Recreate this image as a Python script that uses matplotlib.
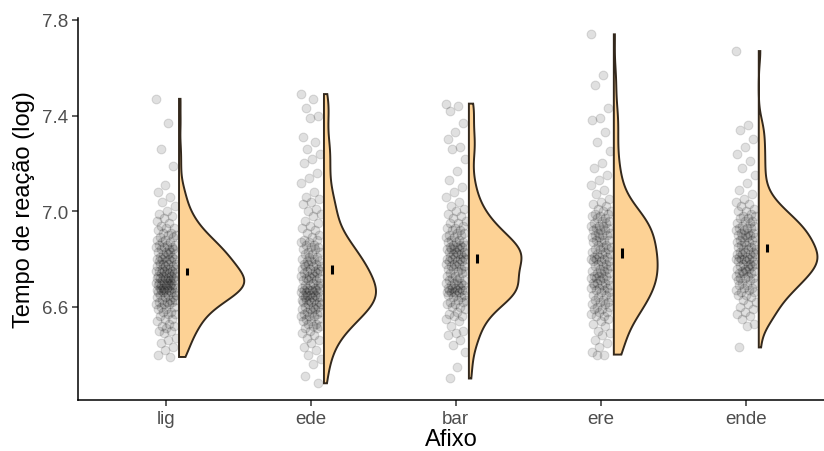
import matplotlib.pyplot as plt
import numpy as np

plt.rcParams['font.family'] = ['Liberation Sans', 'DejaVu Sans']

afixos = ['lig', 'ede', 'bar', 'ere', 'ende']

lig = [7.47, 7.37, 7.26, 7.19, 7.11, 7.08, 7.06, 7.04, 7.02, 7.00, 6.99, 6.98, 6.97, 6.96, 6.95,
       6.94, 6.93, 6.93, 6.92, 6.91, 6.91, 6.90, 6.90,
       6.89, 6.89, 6.88, 6.88, 6.87, 6.87, 6.86, 6.86, 6.86, 6.85, 6.85, 6.85,
       6.84, 6.84, 6.84, 6.83, 6.83, 6.83, 6.82, 6.82, 6.82, 6.81, 6.81, 6.81, 6.80, 6.80, 6.80, 6.80,
       6.79, 6.79, 6.79, 6.78, 6.78, 6.78, 6.78, 6.77, 6.77, 6.77, 6.76, 6.76, 6.76, 6.76, 6.75, 6.75, 6.75, 6.75,
       6.74, 6.74, 6.74, 6.74, 6.73, 6.73, 6.73, 6.73, 6.72, 6.72, 6.72, 6.72, 6.72,
       6.71, 6.71, 6.71, 6.71, 6.70, 6.70, 6.70, 6.70, 6.70,
       6.69, 6.69, 6.69, 6.69, 6.69, 6.68, 6.68, 6.68, 6.68, 6.68, 6.67, 6.67, 6.67, 6.67,
       6.66, 6.66, 6.66, 6.66, 6.66, 6.65, 6.65, 6.65,
       6.64, 6.64, 6.64, 6.63, 6.63, 6.63, 6.62, 6.62, 6.62, 6.61, 6.61, 6.61, 6.60, 6.60,
       6.59, 6.59, 6.58, 6.58, 6.57, 6.57, 6.56, 6.55, 6.55,
       6.54, 6.53, 6.52, 6.52, 6.51, 6.50, 6.50,
       6.49, 6.47, 6.46, 6.45, 6.43, 6.42, 6.40, 6.39]

ede = [7.49, 7.47, 7.43, 7.40, 7.39, 7.31, 7.29, 7.26, 7.24, 7.22, 7.20, 7.16, 7.14, 7.12, 7.08, 7.06,
       7.05, 7.04, 7.03, 7.01, 7.00, 6.99,
       6.98, 6.96, 6.95, 6.94, 6.93, 6.92, 6.91, 6.90,
       6.89, 6.88, 6.88, 6.87, 6.87, 6.86, 6.86, 6.85, 6.85, 6.84, 6.84, 6.83, 6.83, 6.82, 6.82, 6.81,
       6.81, 6.80, 6.80,
       6.79, 6.79, 6.79, 6.78, 6.78, 6.78, 6.77, 6.77, 6.77, 6.76, 6.76, 6.76, 6.75, 6.75, 6.75,
       6.74, 6.74, 6.74, 6.73, 6.73, 6.73, 6.72, 6.72, 6.72, 6.71, 6.71, 6.71, 6.70, 6.70,
       6.69, 6.69, 6.69, 6.68, 6.68, 6.68, 6.68, 6.67, 6.67, 6.67, 6.67,
       6.66, 6.66, 6.66, 6.66, 6.65, 6.65, 6.65, 6.65, 6.64, 6.64, 6.64, 6.64,
       6.63, 6.63, 6.63, 6.63, 6.62, 6.62, 6.62, 6.61, 6.61, 6.61, 6.60, 6.60, 6.60,
       6.59, 6.59, 6.59, 6.58, 6.58, 6.58, 6.57, 6.57, 6.56, 6.56, 6.56, 6.55, 6.55,
       6.54, 6.54, 6.53, 6.53, 6.52, 6.52, 6.51, 6.51, 6.50,
       6.49, 6.48, 6.47, 6.46, 6.45, 6.43, 6.42, 6.40, 6.38, 6.36, 6.31, 6.28]

bar = [7.45, 7.44, 7.42, 7.37, 7.33, 7.30, 7.27, 7.26, 7.22, 7.17, 7.13, 7.10, 7.08, 7.06, 7.04, 7.02,
       7.01, 7.00, 6.99, 6.98, 6.97, 6.96, 6.95, 6.95,
       6.94, 6.93, 6.93, 6.92, 6.92, 6.91, 6.91, 6.90, 6.90, 6.89, 6.89, 6.88, 6.88, 6.87, 6.87, 6.87,
       6.86, 6.86, 6.86, 6.85, 6.85, 6.85,
       6.84, 6.84, 6.84, 6.84, 6.83, 6.83, 6.83, 6.82, 6.82, 6.82, 6.82, 6.81, 6.81, 6.81,
       6.80, 6.80, 6.80, 6.80, 6.79, 6.79, 6.79, 6.78, 6.78, 6.78, 6.77, 6.77, 6.77, 6.76, 6.76, 6.76, 6.75, 6.75,
       6.74, 6.74, 6.73, 6.73, 6.72, 6.72, 6.71, 6.71, 6.71, 6.70, 6.70, 6.70, 6.69, 6.69, 6.69,
       6.68, 6.68, 6.68, 6.68, 6.67, 6.67, 6.67, 6.67, 6.66, 6.66, 6.66, 6.66, 6.65, 6.65, 6.65,
       6.64, 6.64, 6.63, 6.63, 6.62, 6.62, 6.61, 6.61, 6.60, 6.60, 6.59, 6.58, 6.57, 6.56, 6.56, 6.55,
       6.54, 6.52, 6.50, 6.49, 6.48, 6.46, 6.44, 6.41, 6.35, 6.30]

ere = [7.74, 7.57, 7.53, 7.43, 7.39, 7.38, 7.33, 7.29, 7.25, 7.20, 7.18, 7.15, 7.13, 7.11, 7.09, 7.07, 7.05,
       7.04, 7.03, 7.02, 7.01, 7.00, 7.00, 6.99, 6.99, 6.98, 6.98, 6.97, 6.97, 6.96, 6.96, 6.95, 6.95,
       6.94, 6.94, 6.94, 6.93, 6.93, 6.92, 6.92, 6.92, 6.91, 6.91, 6.90, 6.90, 6.90,
       6.89, 6.89, 6.88, 6.88, 6.88, 6.87, 6.87, 6.86, 6.86, 6.85, 6.85,
       6.84, 6.84, 6.84, 6.83, 6.83, 6.82, 6.82, 6.82, 6.81, 6.81, 6.81, 6.80, 6.80, 6.80,
       6.79, 6.79, 6.79, 6.78, 6.78, 6.77, 6.77, 6.77, 6.76, 6.76, 6.75, 6.75,
       6.74, 6.74, 6.74, 6.73, 6.73, 6.73, 6.72, 6.72, 6.72, 6.71, 6.71, 6.70, 6.70, 6.70,
       6.69, 6.69, 6.69, 6.68, 6.68, 6.68, 6.67, 6.67, 6.66, 6.66, 6.65, 6.65,
       6.64, 6.64, 6.63, 6.63, 6.62, 6.62, 6.61, 6.61, 6.60, 6.60, 6.59, 6.59, 6.58, 6.58, 6.57, 6.56, 6.56, 6.55,
       6.54, 6.53, 6.52, 6.50, 6.49, 6.48, 6.46, 6.45, 6.43, 6.41, 6.40, 6.40]

ende = [7.67, 7.36, 7.34, 7.30, 7.27, 7.24, 7.21, 7.18, 7.15, 7.12, 7.09, 7.07,
        7.05, 7.04, 7.03, 7.02, 7.01, 7.00, 7.00, 6.99, 6.98, 6.98, 6.97, 6.97, 6.96, 6.96, 6.95, 6.95,
        6.94, 6.94, 6.93, 6.93, 6.93, 6.92, 6.92, 6.91, 6.91, 6.91, 6.90, 6.90, 6.90,
        6.89, 6.89, 6.89, 6.88, 6.88, 6.87, 6.87, 6.87, 6.86, 6.86, 6.86, 6.85, 6.85,
        6.84, 6.84, 6.84, 6.83, 6.83, 6.83, 6.82, 6.82, 6.82, 6.82, 6.81, 6.81, 6.81,
        6.80, 6.80, 6.80, 6.80, 6.79, 6.79, 6.79, 6.78, 6.78, 6.78, 6.77, 6.77, 6.77,
        6.76, 6.76, 6.76, 6.75, 6.75, 6.75,
        6.74, 6.74, 6.74, 6.73, 6.73, 6.72, 6.72, 6.72, 6.71, 6.71, 6.70, 6.70,
        6.69, 6.69, 6.68, 6.68, 6.67, 6.67, 6.66, 6.66, 6.65, 6.65,
        6.64, 6.63, 6.62, 6.61, 6.60, 6.59, 6.58, 6.57, 6.56, 6.55,
        6.53, 6.52, 6.43]

grupos = [lig, ede, bar, ere, ende]

fill = '#fdd295'
edge = '#33281c'


def kde(values, grid):
    # gaussian kde with R's bw.nrd0
    v = np.asarray(values)
    sd = v.std(ddof=1)
    iqr = np.subtract(*np.percentile(v, [75, 25]))
    bw = 0.9 * min(sd, iqr / 1.34) * len(v) ** -0.2
    z = (grid[:, None] - v[None, :]) / bw
    return np.exp(-0.5 * z ** 2).sum(axis=1) / (len(v) * bw * np.sqrt(2 * np.pi))


fig = plt.figure(figsize=(8.24, 4.52), dpi=100)
ax = fig.add_axes([78 / 824, 1 - 401 / 452, 1 - 78 / 824, (401 - 18.6) / 452])

curves = []
for vals in grupos:
    grid = np.linspace(min(vals), max(vals), 512)
    curves.append((grid, kde(vals, grid)))
dmax = max(d.max() for g, d in curves)

for i, vals in enumerate(grupos):
    x0 = i + 1
    v = np.asarray(vals)
    # jittered points (deterministic spread)
    k = np.arange(len(v))
    jit = ((k * 0.618034) % 1 - 0.5) * 0.14
    ax.scatter(x0 + jit, v, s=40, color='black', alpha=0.12, linewidths=0.8, zorder=2)

    # flat half violin, nudged right
    grid, dens = curves[i]
    xl = x0 + 0.09
    xr = xl + dens / dmax * 0.45
    xs = np.concatenate([[xl], xr, [xl]])
    ys = np.concatenate([[grid[0]], grid, [grid[-1]]])
    ax.fill(xs, ys, facecolor=fill, edgecolor=edge, linewidth=1.4, zorder=3)

    # mean +- se
    m = v.mean()
    se = v.std(ddof=1) / np.sqrt(len(v))
    ax.plot([x0 + 0.145, x0 + 0.145], [m - se, m + se], color='black', linewidth=2.2,
            solid_capstyle='butt', zorder=4)

ax.set_xlim(0.393, 5.54)
ax.set_ylim(6.21, 7.81)
ax.set_xticks(range(1, 6))
ax.set_xticklabels(afixos)
ax.set_yticks([6.6, 7.0, 7.4, 7.8])
ax.set_yticklabels(['6.6', '7.0', '7.4', '7.8'])

for s in ['top', 'right']:
    ax.spines[s].set_visible(False)
for s in ['left', 'bottom']:
    ax.spines[s].set_linewidth(1.1)
    ax.spines[s].set_color('black')
ax.tick_params(length=4, width=1.1, color='#333333', labelsize=13.5, labelcolor='#4d4d4d', pad=3)

ax.set_xlabel('Afixo', fontsize=17, color='black', labelpad=1)
ax.set_ylabel('Tempo de reação (log)', fontsize=17, color='black', labelpad=5)

fig.savefig('out.png', dpi=100)
